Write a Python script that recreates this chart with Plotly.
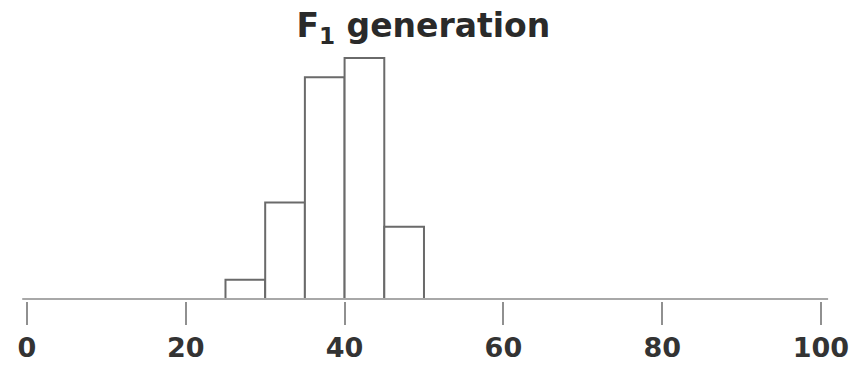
import plotly.graph_objects as go

# Data
bin_starts = [25, 30, 35, 40, 45]
bin_width = 5
counts = [4, 20, 46, 50, 15]
tick_vals = [0, 20, 40, 60, 80, 100]
tick_text = ["0", "20", "40", "60", "80", "100"]
axis_extent = [-0.6, 100.9]
title_text = "F<sub>1</sub> generation"

centers = [s + bin_width / 2 for s in bin_starts]

fig = go.Figure()
fig.add_trace(go.Bar(
    x=centers, y=counts, width=[bin_width] * len(counts),
    marker=dict(color="white", line=dict(color="#6a6a6a", width=2)),
    cliponaxis=False, showlegend=False, hoverinfo="skip",
))
fig.add_trace(go.Scatter(
    x=axis_extent, y=[0, 0], mode="lines",
    line=dict(color="#a8a8a8", width=2), cliponaxis=False,
    showlegend=False, hoverinfo="skip",
))

fig.update_layout(
    width=864, height=369,
    margin=dict(l=0, r=0, t=40, b=68),
    paper_bgcolor="white", plot_bgcolor="white",
    title=dict(text=title_text, x=0.49, xanchor="center", y=0.93, yanchor="middle",
               font=dict(family="DejaVu Sans", size=33, color="#2a2a2a", weight="bold")),
    xaxis=dict(range=[-3.40, 105.42], showgrid=False, zeroline=False, showline=False,
               tickmode="array", tickvals=tick_vals, ticktext=tick_text,
               ticks="outside", ticklen=23, tickwidth=2, tickcolor="#909090",
               tickfont=dict(family="DejaVu Sans", size=27, color="#333", weight="bold")),
    yaxis=dict(range=[-0.415, 53.73], visible=False),
)

fig.write_html("out.html")
